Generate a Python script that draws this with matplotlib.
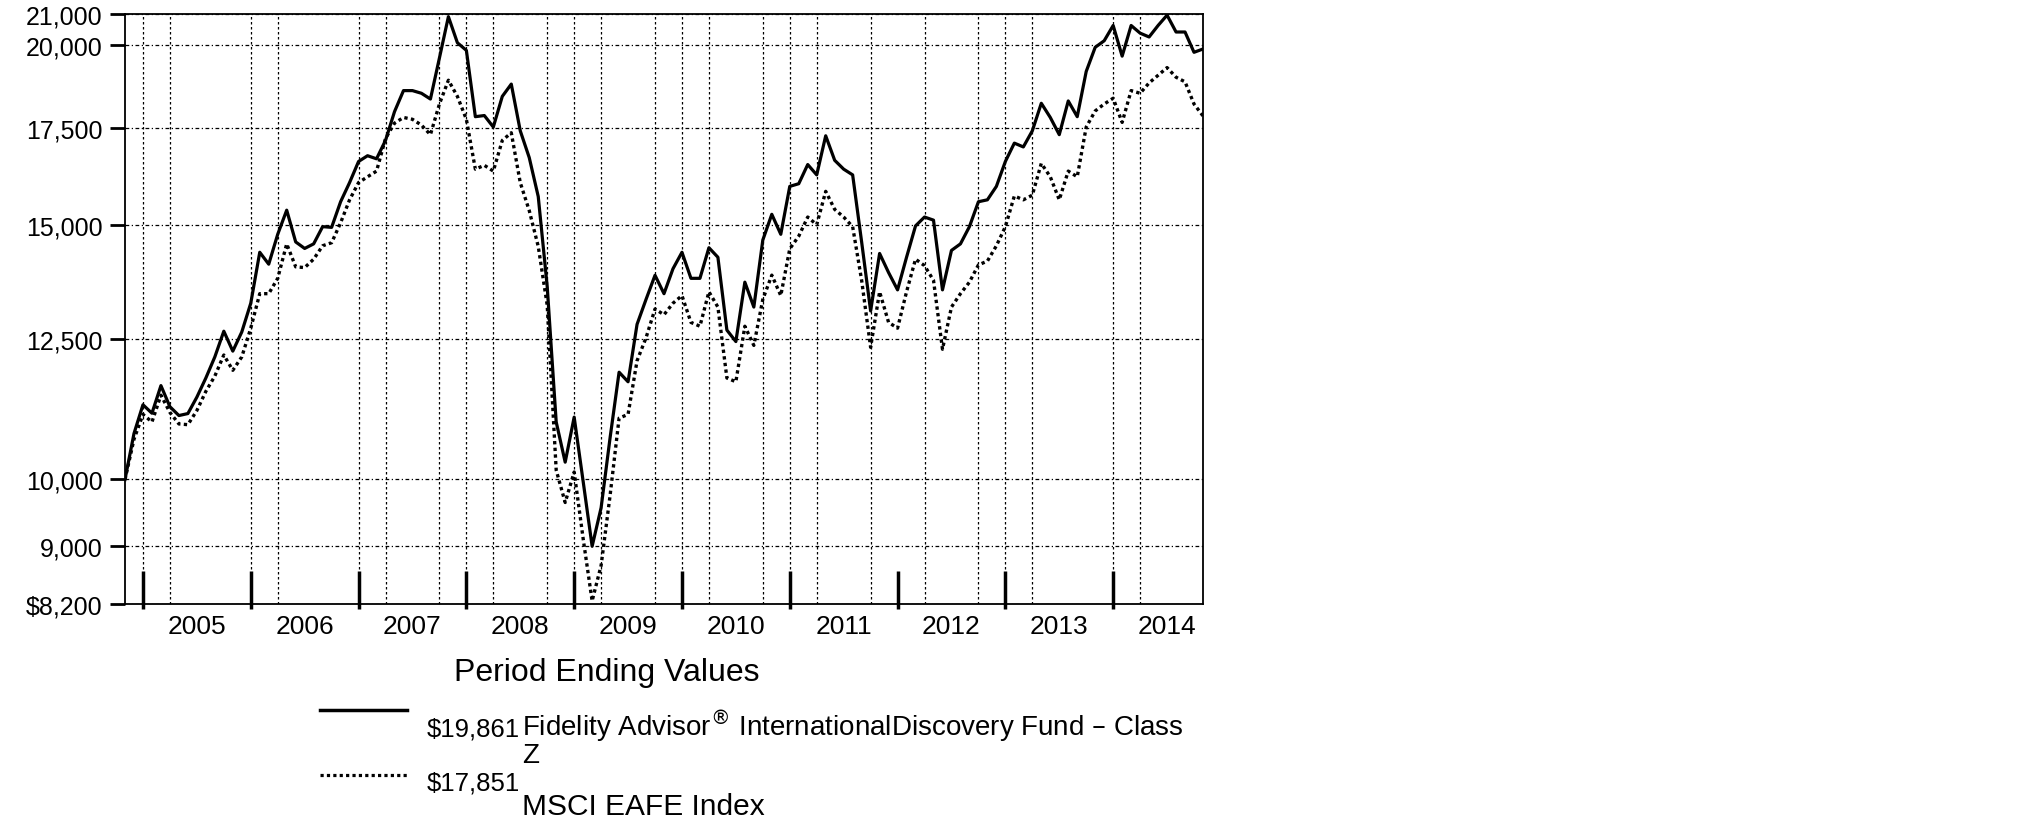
import matplotlib.pyplot as plt
from matplotlib.lines import Line2D
from matplotlib.ticker import FixedLocator, NullLocator

plt.rcParams['font.family'] = ['Liberation Sans', 'DejaVu Sans']

# month-end values of a $10,000 investment, Oct 2004 .. Oct 2014
fund = [
    10000, 10760, 11265, 11114, 11614, 11230, 11073, 11108, 11403, 11756,
    12158, 12666, 12270, 12651, 13244, 14364, 14094, 14782, 15361, 14603,
    14452, 14558, 14963, 14946, 15569, 16052, 16601, 16754, 16672, 17168,
    17972, 18586, 18586, 18507, 18338, 19577, 20911, 20060, 19817, 17830,
    17862, 17538, 18416, 18780, 17432, 16703, 15700, 13600, 10960, 10280,
    11045, 9970, 8990, 9560, 10690, 11865, 11685, 12806, 13325, 13847,
    13447, 13992, 14364, 13780, 13780, 14469, 14251, 12689, 12459, 13696,
    13163, 14648, 15260, 14782, 15955, 16023, 16520, 16250, 17295, 16632,
    16399, 16250, 14603, 13082, 14337, 13907, 13529, 14251, 14981, 15194,
    15119, 13529, 14407, 14558, 14963, 15569, 15617, 15955, 16601, 17094,
    16990, 17432, 18215, 17808, 17326, 18282, 17830, 19163, 19914, 20123,
    20619, 19636, 20619, 20369, 20245, 20619, 20962, 20406, 20406, 19756,
    19861]

index = [
    10000, 10662, 11094, 10960, 11438, 11128, 10926, 10913, 11162, 11508,
    11792, 12195, 11901, 12158, 12728, 13447, 13447, 13780, 14558, 14035,
    14018, 14207, 14514, 14585, 15055, 15617, 16052, 16201, 16348, 17220,
    17646, 17808, 17755, 17592, 17326, 18193, 18896, 18416, 17755, 16399,
    16500, 16348, 17168, 17379, 16050, 15350, 14500, 13200, 10150, 9640,
    10120, 9100, 8240, 8720, 9750, 11027, 11094, 12083, 12535, 13123,
    13003, 13244, 13406, 12845, 12767, 13488, 13163, 11756, 11685, 12767,
    12383, 13325, 13850, 13406, 14443, 14738, 15194, 15009, 15829, 15381,
    15194, 14963, 13737, 12345, 13488, 12845, 12728, 13488, 14207, 14061,
    13737, 12307, 13163, 13447, 13696, 14078, 14164, 14514, 14963, 15713,
    15617, 15733, 16550, 16201, 15617, 16348, 16201, 17538, 17993, 18193,
    18361, 17668, 18586, 18507, 18815, 19046, 19280, 18987, 18848, 18193,
    17851]

years = ['2005', '2006', '2007', '2008', '2009', '2010', '2011', '2012', '2013', '2014']
year_mid = [8, 20, 32, 44, 56, 68, 80, 92, 104, 116]
year_ends = [2, 14, 26, 38, 50, 62, 74, 86, 98, 110]
# quarter-end grid lines (a few are missing in the original)
grid_months = [2, 5, 8, 14, 17, 20, 26, 29, 32, 35, 38, 41, 47, 50, 53, 56, 59,
               62, 65, 68, 71, 74, 77, 80, 83, 89, 92, 95, 98, 101, 104, 110,
               113, 116]
y_ticks = [8200, 9000, 10000, 12500, 15000, 17500, 20000, 21000]
y_labels = ['$8,200', '9,000', '10,000', '12,500', '15,000', '17,500', '20,000', '21,000']

fund_label = 'Fidelity Advisor$^{\\circledR}$ InternationalDiscovery Fund \u2013 Class'
index_label = 'MSCI EAFE Index'

months = list(range(len(fund)))

fig = plt.figure(figsize=(20.25, 8.28), dpi=100)
ax = fig.add_axes([125 / 2025, 1 - 605 / 828, 1078 / 2025, 590 / 828])

ax.plot(months, fund, color='black', lw=2.3, zorder=3)
ax.plot(months, index, color='black', lw=2.4, linestyle=(0, (1, 1)), zorder=3)

ax.set_yscale('log')
ax.set_ylim(8200, 21000)
ax.set_xlim(0, 120)
ax.yaxis.set_major_locator(FixedLocator(y_ticks))
ax.yaxis.set_minor_locator(NullLocator())
ax.set_yticklabels(y_labels)
ax.tick_params(axis='y', length=11, width=2, pad=5, labelsize=18)

ax.set_xticks(year_mid, years)
ax.set_xticks(grid_months, minor=True)
ax.tick_params(axis='x', which='both', length=0, pad=7, labelsize=19)

ax.grid(axis='y', which='major', color='black', lw=0.9, linestyle=(0, (3, 2, 1, 2)))
ax.grid(axis='x', which='minor', color='black', lw=0.9, linestyle=(0, (2, 2)))
ax.grid(axis='x', which='major', visible=False)

ax.vlines(year_ends, -0.008, 0.056, transform=ax.get_xaxis_transform(),
          colors='black', lw=2.5, clip_on=False, zorder=4)

for s in ax.spines.values():
    s.set_linewidth(1.3)

# legend block below the chart
fig.text(607 / 2025, 1 - 673 / 828, 'Period Ending Values', ha='center', va='center', fontsize=23)
fig.add_artist(Line2D([320 / 2025, 407 / 2025], [1 - 711 / 828] * 2, color='black', lw=2.5))
fig.add_artist(Line2D([320 / 2025, 407 / 2025], [1 - 776 / 828] * 2, color='black', lw=2.3,
                      linestyle=(0, (1, 1))))
fig.text(427 / 2025, 1 - 737 / 828, '$19,861', fontsize=18.5, va='baseline')
fig.text(427 / 2025, 1 - 791 / 828, '$17,851', fontsize=18.5, va='baseline')
fig.text(522 / 2025, 1 - 737 / 828, fund_label, fontsize=20, va='baseline')
fig.text(522 / 2025, 1 - 763 / 828, 'Z', fontsize=20, va='baseline')
fig.text(522 / 2025, 1 - 815 / 828, index_label, fontsize=21.5, va='baseline')

fig.savefig('out.png', dpi=100)
